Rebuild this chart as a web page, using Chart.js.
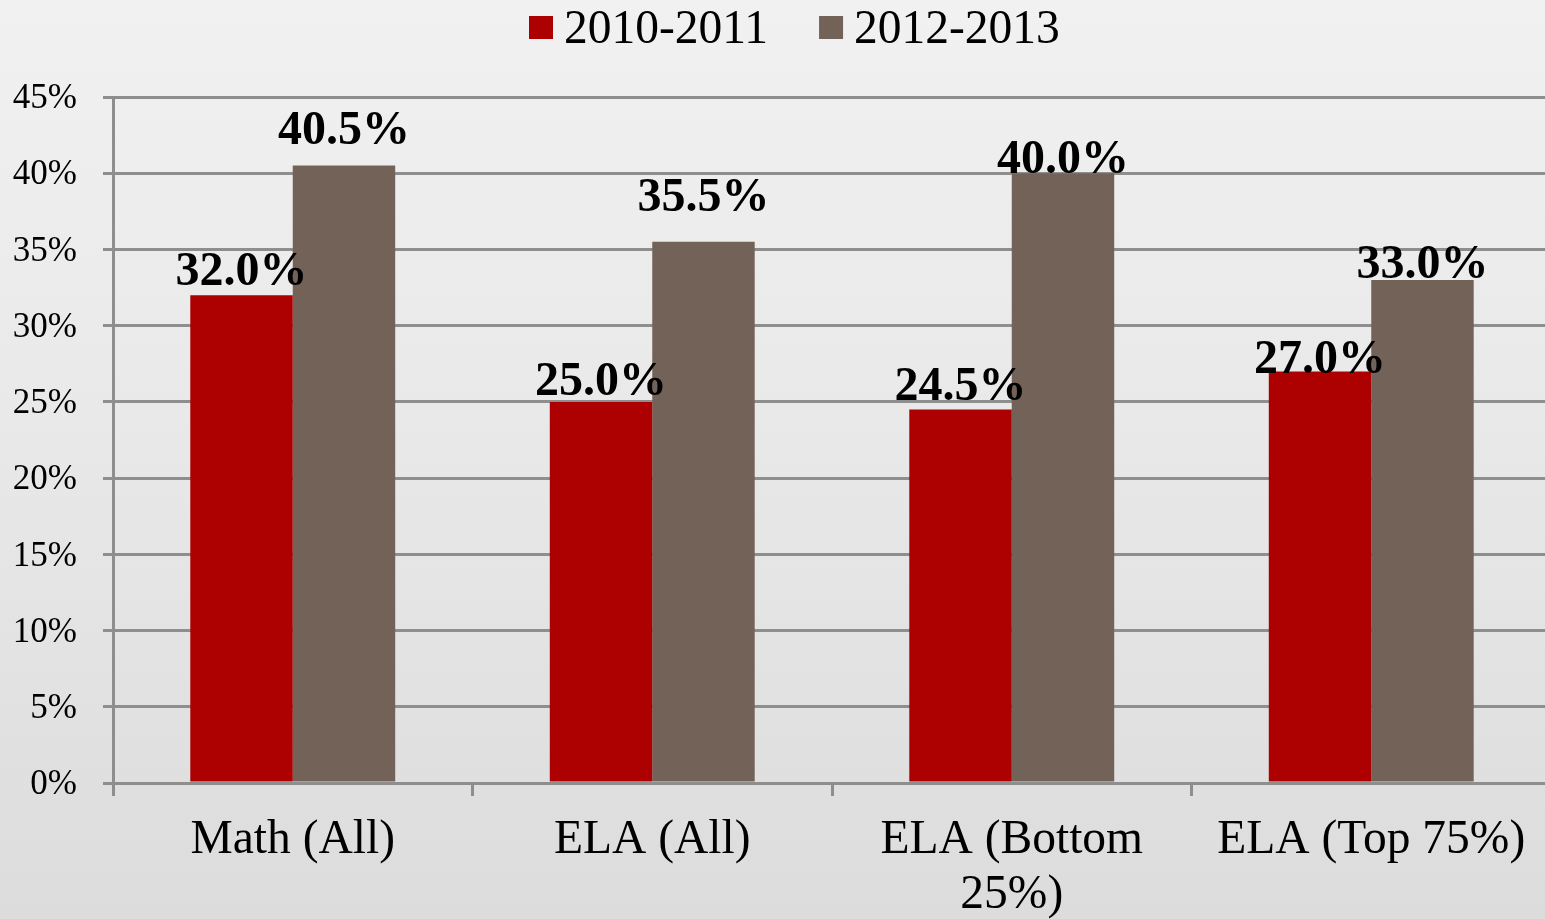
<!DOCTYPE html>
<html>
<head>
<meta charset="utf-8">
<script src="https://cdn.jsdelivr.net/npm/chart.js@4.4.1/dist/chart.umd.min.js"></script>
<style>
html, body { margin: 0; padding: 0; overflow: hidden; width: 1545px; height: 919px; }
body { background: linear-gradient(#f1f1f1, #e9e9e9 45%, #dcdcdc); }
#wrap { position: absolute; left: 0; top: 0; width: 1551px; height: 919px; }
canvas { display: block; }
</style>
</head>
<body>
<div id="wrap"><canvas id="c" width="1551" height="919"></canvas></div>
<script>
// ---- data ----
const categories = [['Math (All)'], ['ELA (All)'], ['ELA (Bottom', '25%)'], ['ELA (Top 75%)']];
const seriesNames = ['2010-2011', '2012-2013'];
const values2010 = [32.0, 25.0, 24.5, 27.0];
const values2012 = [40.5, 35.5, 40.0, 33.0];
const yMin = 0, yMax = 45, yStep = 5;

// ---- label lift above bar top (px), style only ----
const lift2010 = [10, 7, 10, -2];
const lift2012 = [22, 31, 0, 2];

const SERIF = '"Liberation Serif", "Times New Roman", Times, serif';
const RED = '#ad0000';
const BROWN = '#736258';
const GRID = '#8e8e8e';

const legendPlugin = {
  id: 'customLegend',
  afterDraw(chart) {
    const ctx = chart.ctx;
    ctx.save();
    ctx.font = '47.5px ' + SERIF;
    ctx.textBaseline = 'alphabetic';
    ctx.textAlign = 'left';
    let x = 529;
    chart.data.datasets.forEach((ds, i) => {
      ctx.fillStyle = ds.backgroundColor;
      ctx.fillRect(x, 16, 24, 23);
      ctx.fillStyle = '#000';
      ctx.fillText(ds.label, x + 35, 43);
      x += 35 + ctx.measureText(ds.label).width + 51;
    });
    ctx.restore();
  }
};

const valueLabelPlugin = {
  id: 'valueLabels',
  afterDatasetsDraw(chart) {
    const ctx = chart.ctx;
    ctx.save();
    ctx.font = 'bold 48px ' + SERIF;
    ctx.fillStyle = '#000';
    ctx.textAlign = 'center';
    ctx.textBaseline = 'alphabetic';
    const lifts = [lift2010, lift2012];
    chart.data.datasets.forEach((ds, di) => {
      const meta = chart.getDatasetMeta(di);
      meta.data.forEach((bar, i) => {
        ctx.fillText(ds.data[i].toFixed(1) + '%', bar.x, bar.y - lifts[di][i]);
      });
    });
    ctx.restore();
  }
};

new Chart(document.getElementById('c'), {
  type: 'bar',
  data: {
    labels: categories,
    datasets: [
      { label: seriesNames[0], data: values2010, backgroundColor: RED, borderWidth: 0 },
      { label: seriesNames[1], data: values2012, backgroundColor: BROWN, borderWidth: 0 }
    ]
  },
  options: {
    responsive: false,
    devicePixelRatio: 1,
    animation: false,
    layout: { padding: { top: 97, left: 0, right: 0, bottom: 0 } },
    datasets: { bar: { categoryPercentage: 0.57, barPercentage: 1.0 } },
    plugins: {
      legend: { display: false },
      tooltip: { enabled: false }
    },
    scales: {
      x: {
        offset: true,
        grid: { display: true, drawOnChartArea: false, drawTicks: true, tickLength: 13, color: GRID, lineWidth: 3, offset: true },
        border: { display: true, color: GRID, width: 3 },
        ticks: {
          color: '#000',
          font: { family: SERIF, size: 47.5, lineHeight: 1.16 },
          padding: 17,
          maxRotation: 0,
          autoSkip: false
        },
        afterFit(s) { s.height = 136; }
      },
      y: {
        min: yMin,
        max: yMax,
        grid: { color: GRID, lineWidth: 3, tickLength: 10, drawTicks: true },
        border: { display: true, color: GRID, width: 3 },
        ticks: {
          stepSize: yStep,
          color: '#000',
          font: { family: SERIF, size: 35 },
          padding: 26,
          labelOffset: 2,
          callback: v => v + '%'
        },
        afterFit(s) { s.width = 113; }
      }
    }
  },
  plugins: [legendPlugin, valueLabelPlugin]
});
</script>
</body>
</html>
